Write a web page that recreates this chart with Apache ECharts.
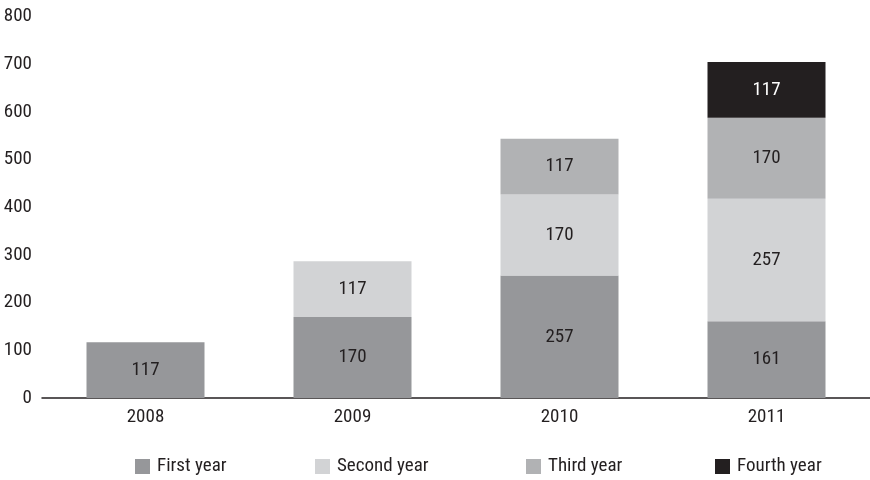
<!DOCTYPE html>
<html>
<head>
<meta charset="utf-8">
<script src="https://cdn.jsdelivr.net/npm/echarts@6/dist/echarts.min.js"></script>
<style>
  html, body { margin: 0; padding: 0; background: #ffffff; }
  #chart { width: 870px; height: 480px; }
</style>
</head>
<body>
<div id="chart"></div>
<script>
// Enrolment by cohort year, stacked per calendar year
const categories = ['2008', '2009', '2010', '2011'];
const firstYear  = [117, 170, 257, 161];
const secondYear = [null, 117, 170, 257];
const thirdYear  = [null, null, 117, 170];
const fourthYear = [null, null, null, 117];
const seriesNames = ['First year', 'Second year', 'Third year', 'Fourth year'];
const yTicks = { min: 0, max: 800, interval: 100 };

const FONT = '"Roboto Condensed", "Liberation Sans Narrow", sans-serif';
const FONT_SIZE = 19;
const INK = '#231f20';
const colors = ['#96979a', '#d2d3d5', '#b1b2b4', '#231f20'];
const labelColors = [INK, INK, INK, '#ffffff'];
const values = [firstYear, secondYear, thirdYear, fourthYear];
const legendLeft = [135, 315, 526, 715];

const chart = echarts.init(document.getElementById('chart'), null, { renderer: 'canvas' });

const series = seriesNames.map((name, i) => ({
  name: name,
  type: 'bar',
  stack: 'total',
  barWidth: 118,
  data: values[i],
  itemStyle: { color: colors[i] },
  label: {
    show: true,
    position: 'inside',
    color: labelColors[i],
    fontFamily: FONT,
    fontSize: FONT_SIZE
  },
  emphasis: { disabled: true }
}));

const legends = seriesNames.map((name, i) => ({
  data: [name],
  left: legendLeft[i],
  top: 457,
  padding: 0,
  itemWidth: 15,
  itemHeight: 15,
  icon: 'rect',
  itemGap: 0,
  textStyle: { color: INK, fontFamily: FONT, fontSize: FONT_SIZE, padding: [0, 0, 0, 2] },
  selectedMode: false
}));

chart.setOption({
  animation: false,
  backgroundColor: '#ffffff',
  grid: { left: 42, right: 0, top: 16.7, bottom: 82, containLabel: false },
  legend: legends,
  xAxis: {
    type: 'category',
    data: categories,
    axisLine: { show: true, lineStyle: { color: INK, width: 1.5 } },
    axisTick: { show: false },
    axisLabel: { color: INK, fontFamily: FONT, fontSize: FONT_SIZE, margin: 10 }
  },
  yAxis: {
    type: 'value',
    min: yTicks.min,
    max: yTicks.max,
    interval: yTicks.interval,
    axisLine: { show: false },
    axisTick: { show: false },
    splitLine: { show: false },
    axisLabel: { color: INK, fontFamily: FONT, fontSize: FONT_SIZE, margin: 10 }
  },
  series: series
});
</script>
</body>
</html>
